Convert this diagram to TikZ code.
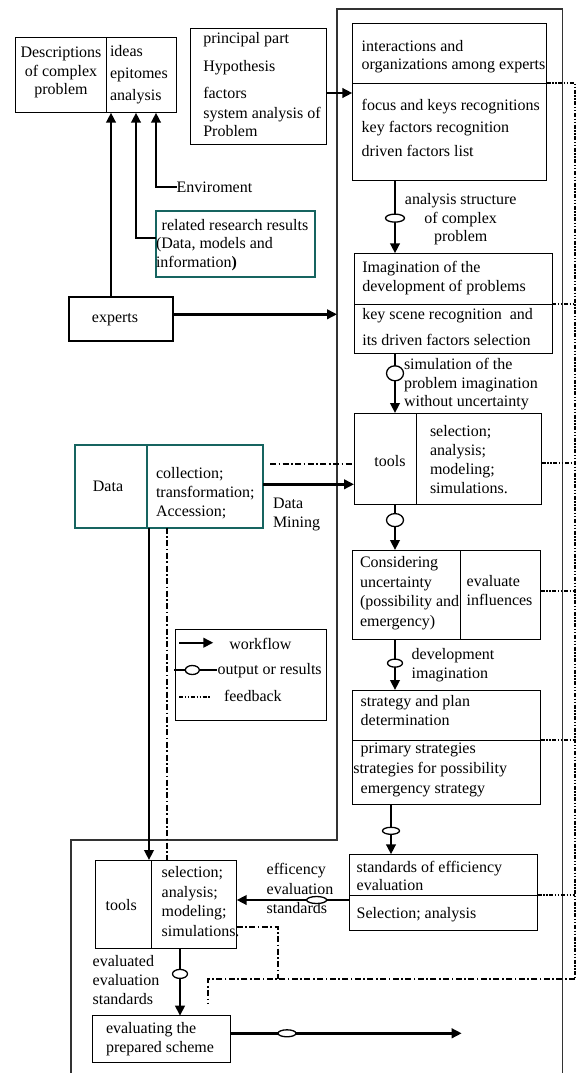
\documentclass[tikz,border=0pt]{standalone}
\usepackage{fontspec}
\setmainfont{Liberation Serif}
\usetikzlibrary{arrows.meta,shapes.geometric}
\definecolor{tealbox}{RGB}{22,100,96}
\begin{document}
\begin{tikzpicture}[x=1pt,y=-1pt,
  box/.style={draw, line width=1pt, inner sep=0pt, outer sep=0pt},
  tealframe/.style={draw=tealbox, line width=2pt, inner sep=0pt, outer sep=0pt},
  txt/.style={inner sep=0pt, outer sep=0pt, align=left, font=\fontsize{16}{19}\selectfont},
  flow/.style={line width=2.4pt, -{Triangle[length=10pt,width=9.5pt]}},
  res/.style={ellipse, draw, line width=1.3pt, fill=white, inner sep=0pt},
  fbdd/.style={line width=1.8pt, dash pattern=on 4pt off 1.6pt on 1.4pt off 1.6pt on 1.4pt off 1.6pt},
  fbd/.style={line width=1.8pt, dash pattern=on 6pt off 2.5pt on 1.6pt off 2.5pt},
  outerline/.style={line width=1.2pt, draw=black!80}
]
\useasboundingbox (0,0) rectangle (578,1073);

% frame around the workflow column
\draw[outerline] (71,1073) -- (71,840) -- (337,840) -- (337,9) -- (562.5,9) -- (562.5,1073);

% ---------- boxes ----------
\node[box, minimum width=161pt, minimum height=75pt] (desc) at (96.2,75.2) {};
\draw[line width=1pt] ([xshift=9.8pt]desc.north) -- ([xshift=9.8pt]desc.south);

\node[box, minimum width=136.7pt, minimum height=115pt] (princ) at (258.35,86.5) {};

\node[box, minimum width=194.4pt, minimum height=156.7pt] (inter) at (449.5,101.65) {};
\draw[line width=1pt] ([yshift=18.35pt]inter.west) -- ([yshift=18.35pt]inter.east);

\node[tealframe, minimum width=159.3pt, minimum height=65.7pt] (related) at (235.35,243.85) {};

\node[box, line width=2pt, minimum width=104.3pt, minimum height=44pt] (experts) at (121.15,318.7) {};

\node[box, minimum width=198.3pt, minimum height=100pt] (imag) at (453.15,303.3) {};
\draw[line width=1pt] ([yshift=-0.7pt]imag.west) -- ([yshift=-0.7pt]imag.east);

\node[box, minimum width=187.7pt, minimum height=91pt] (tools1) at (447.85,458.5) {};
\draw[line width=1pt] ([xshift=-31.85pt]tools1.north) -- ([xshift=-31.85pt]tools1.south);

\node[tealframe, minimum width=188.3pt, minimum height=82.7pt] (data) at (169.15,486.35) {};
\draw[tealbox, line width=2pt] ([xshift=-22.45pt]data.north) -- ([xshift=-22.45pt]data.south);

\node[box, minimum width=151.7pt, minimum height=90.7pt] (legend) at (250.85,674.65) {};

\node[box, minimum width=188pt, minimum height=89.3pt] (consid) at (446.7,594.65) {};
\draw[line width=1pt] ([xshift=14pt]consid.north) -- ([xshift=14pt]consid.south);

\node[box, minimum width=188pt, minimum height=114.3pt] (strat) at (446.7,747.15) {};
\draw[line width=1pt] ([yshift=7.15pt]strat.west) -- ([yshift=7.15pt]strat.east);

\node[box, minimum width=188.4pt, minimum height=75.7pt] (stand) at (443.5,892.15) {};
\draw[line width=1pt] ([yshift=-2.85pt]stand.west) -- ([yshift=-2.85pt]stand.east);

\node[box, minimum width=141pt, minimum height=88.3pt] (tools2) at (166.2,904.15) {};
\draw[line width=1pt] ([xshift=-14.5pt]tools2.north) -- ([xshift=-14.5pt]tools2.south);

\node[box, minimum width=137.3pt, minimum height=47pt] (eval) at (161.35,1039.2) {};

% ---------- texts (multi-line nodes are placed by the baseline of their last line) ----------
\node[txt, anchor=base, align=center, font=\fontsize{16}{18}\selectfont] (descL) at (61,94) {Descriptions\\of complex\\problem};
\node[txt, anchor=base west] (descR) at (110,100.7) {ideas\\[2.5pt]epitomes\\[3.5pt]analysis};

\node[txt, anchor=base west, font=\fontsize{16}{18.5}\selectfont] (princT) at (203.3,136.7)
  {principal part\\[9.9pt]Hypothesis\\[8.1pt]factors\\[1.5pt]system analysis of\\Problem};

\node[txt, anchor=base west, font=\fontsize{16}{18.3}\selectfont] (interU) at (361.7,70)
  {interactions and\\organizations among experts};
\node[txt, anchor=base west] (interL) at (361.7,156.5)
  {focus and keys recognitions\\[3pt]key factors recognition\\[5.5pt]driven factors list};

\node[txt, anchor=base west] (env) at (176.7,192.5) {Enviroment};
\node[txt, anchor=base west] (relA) at (161.7,230) {related research results};
\node[txt, anchor=base west] (relB) at (156,267.3) {(Data, models and\\information\textbf{)}};

\node[txt, anchor=base] (expT) at (115,322.7) {experts};

\node[txt, anchor=base, align=center, font=\fontsize{16}{18.7}\selectfont] (anl) at (460.7,241.7)
  {analysis structure\\of complex\\problem};

\node[txt, anchor=base west, font=\fontsize{16}{18.7}\selectfont] (imagU) at (362.3,291)
  {Imagination of the\\development of problems};
\node[txt, anchor=base west] (imagL) at (362.3,345.7)
  {key scene recognition~ and\\[7.4pt]its driven factors selection};

\node[txt, anchor=base west, font=\fontsize{16}{18.7}\selectfont] (sim) at (404,406.7)
  {simulation of the\\problem imagination\\without uncertainty};

\node[txt, anchor=base] (tools1L) at (390,466.7) {tools};
\node[txt, anchor=base west, font=\fontsize{16}{18.9}\selectfont] (tools1R) at (430,493.3)
  {selection;\\analysis;\\modeling;\\simulations.};

\node[txt, anchor=base] (dataL) at (108,491.7) {Data};
\node[txt, anchor=base west, font=\fontsize{16}{18.85}\selectfont] (dataR) at (156,516)
  {collection;\\transformation;\\Accession;};
\node[txt, anchor=base west, font=\fontsize{16}{19.4}\selectfont] (mining) at (273,527.7) {Data\\Mining};

\node[txt, anchor=base west] (lgT1) at (229.3,649.3) {workflow};
\node[txt, anchor=base west] (lgT2) at (217.7,674.3) {output or results};
\node[txt, anchor=base west] (lgT3) at (224,701.7) {feedback};

\node[txt, anchor=base west, font=\fontsize{16}{19.4}\selectfont] (considL) at (360,626)
  {Considering\\uncertainty\\(possibility and\\emergency)};
\node[txt, anchor=base west] (considR) at (466.7,605.7) {evaluate\\influences};

\node[txt, anchor=base west] (devT) at (411.7,678.3) {development\\imagination};

\node[txt, anchor=base west] (stratU) at (360.7,725.7) {strategy and plan\\determination};
\node[txt, anchor=base west] (stratL1) at (360.7,753.3) {primary strategies};
\node[txt, anchor=base west] (stratL2) at (353.3,773.3) {strategies for possibility};
\node[txt, anchor=base west] (stratL3) at (360.7,793.3) {emergency strategy};

\node[txt, anchor=base west, font=\fontsize{16}{18}\selectfont] (standU) at (356.7,890.7)
  {standards of efficiency\\evaluation};
\node[txt, anchor=base west] (standL) at (356.7,918.3) {Selection; analysis};

\node[txt, anchor=base west, font=\fontsize{16}{19.2}\selectfont] (effT) at (266.7,913.3)
  {efficency\\evaluation\\standards};

\node[txt, anchor=base] (tools2L) at (121.3,910) {tools};
\node[txt, anchor=base west, font=\fontsize{16}{19.5}\selectfont] (tools2R) at (161.7,936)
  {selection;\\analysis;\\modeling;\\simulations.};

\node[txt, anchor=base west] (evaldT) at (92.7,1004) {evaluated\\evaluation\\standards};
\node[txt, anchor=base west] (evalT) at (106,1052.3) {evaluating the\\prepared scheme};

% ---------- connectors into the problem description ----------
\draw[flow] ([xshift=-10.15pt]experts.north) -- ([xshift=14.8pt]desc.south);
\draw[flow] ([yshift=5.85pt]related.west) -| ([xshift=39.8pt]desc.south);
\draw[flow] (env.west) -| ([xshift=59.8pt]desc.south);

\draw[flow] ([yshift=-6.5pt]princ.east) -- ([yshift=8.65pt]inter.west);
\coordinate (exin) at (337,314.3);
\draw[flow] ([yshift=4.4pt]experts.east) -- (exin);

% ---------- main workflow ----------
\draw[flow] ([xshift=-54.5pt]inter.south) -- node[res, pos=0.52, minimum width=19pt, minimum height=8pt] (o1) {} ([xshift=-58.15pt]imag.north);
\draw[flow] ([xshift=-58.15pt]imag.south) -- node[res, pos=0.335, minimum width=17pt, minimum height=15pt] (o2) {} ([xshift=-52.85pt]tools1.north);
\draw[flow] ([xshift=-52.85pt]tools1.south) -- node[res, pos=0.35, minimum width=17pt, minimum height=13pt] (o3) {} ([xshift=-51.7pt]consid.north);
\draw[flow] ([xshift=-51.7pt]consid.south) -- node[res, pos=0.47, minimum width=15pt, minimum height=8pt] (o4) {} ([xshift=-51.7pt]strat.north);
\draw[flow] ([xshift=-55.7pt]strat.south) -- node[res, pos=0.53, minimum width=17pt, minimum height=7pt] (o5) {} ([xshift=-52.5pt]stand.north);
\draw[flow] ([yshift=-7.85pt]stand.west) -- node[res, pos=0.29, minimum width=20pt, minimum height=7pt] (o6) {} ([yshift=4.15pt]tools2.east);
\draw[flow] ([xshift=13.8pt]tools2.south) -- node[res, pos=0.38, minimum width=15pt, minimum height=9pt] (o7) {} ([xshift=18.65pt]eval.north);
\coordinate (evout) at (461.7,1033.3);
\draw[flow] ([yshift=5.9pt]eval.east) -- node[res, pos=0.246, minimum width=18pt, minimum height=7pt] (o8) {} (evout);

% ---------- data links ----------
\draw[fbd] ([xshift=6.7pt,yshift=22.35pt]data.east) -- ([yshift=-5.5pt]tools1.west);
\draw[flow] ([yshift=2.05pt]data.east) -- ([yshift=-25.8pt]tools1.west);
\draw[flow] ([xshift=-20.15pt]data.south) -- ([xshift=-17.2pt]tools2.north);
\draw[fbd] ([xshift=-2.45pt]data.south) -- ([xshift=0.5pt]tools2.north);

% ---------- feedback loop ----------
\coordinate (fbi) at (575,83.3);
\coordinate (fbm) at (575,304);
\coordinate (fbt) at (575,463);
\coordinate (fbc) at (575,591);
\coordinate (fbs) at (575,740);
\coordinate (fbe) at (575,895);
\coordinate (fbcorner) at (575,979);
\coordinate (fbjoin) at (278,979);
\coordinate (fbtools) at (278,927);
\coordinate (fbleft) at (208,979);
\coordinate (fbend) at (208,1003);
\draw[fbdd] (fbi -| inter.east) -- (fbi) -- (fbcorner);
\draw[fbdd] (fbm -| imag.east) -- (fbm);
\draw[fbdd] (fbt -| tools1.east) -- (fbt);
\draw[fbdd] (fbc -| consid.east) -- (fbc);
\draw[fbdd] (fbs -| strat.east) -- (fbs);
\draw[fbdd] (fbe -| stand.east) -- (fbe);
\draw[fbd] (fbcorner) -- (fbleft) -- (fbend);
\draw[fbd] (fbtools -| tools2.east) -- (fbtools) -- (fbjoin);

% ---------- legend samples ----------
\coordinate (lgA1) at (179.3,642.7);
\coordinate (lgA2) at (213.3,642.7);
\draw[flow] (lgA1) -- (lgA2);
\coordinate (lgB1) at (174,670);
\coordinate (lgB2) at (216.7,670);
\draw[line width=1.2pt] (lgB1) -- (lgB2);
\node[res, minimum width=14pt, minimum height=9pt] (lgo) at (192.3,670) {};
\coordinate (lgC1) at (179.3,697.3);
\coordinate (lgC2) at (210.7,697.3);
\draw[fbdd] (lgC1) -- (lgC2);
\end{tikzpicture}
\end{document}
